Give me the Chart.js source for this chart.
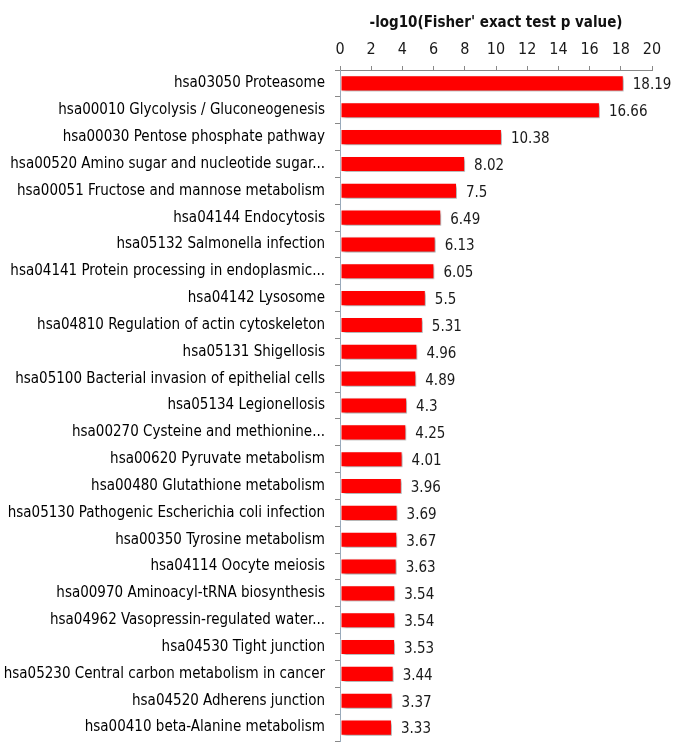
<!DOCTYPE html>
<html>
<head>
<meta charset="utf-8">
<script src="https://cdn.jsdelivr.net/npm/chart.js@4.4.0/dist/chart.umd.min.js"></script>
<style>
  html, body { margin: 0; padding: 0; background: #fff; overflow: hidden; }
  #wrap { width: 673px; height: 760px; }
</style>
</head>
<body>
<div id="wrap"><canvas id="barChart" width="673" height="760"></canvas></div>
<script>
/********************
DATA
********************/

var pathways = [
  "hsa03050 Proteasome",
  "hsa00010 Glycolysis / Gluconeogenesis",
  "hsa00030 Pentose phosphate pathway",
  "hsa00520 Amino sugar and nucleotide sugar...",
  "hsa00051 Fructose and mannose metabolism",
  "hsa04144 Endocytosis",
  "hsa05132 Salmonella infection",
  "hsa04141 Protein processing in endoplasmic...",
  "hsa04142 Lysosome",
  "hsa04810 Regulation of actin cytoskeleton",
  "hsa05131 Shigellosis",
  "hsa05100 Bacterial invasion of epithelial cells",
  "hsa05134 Legionellosis",
  "hsa00270 Cysteine and methionine...",
  "hsa00620 Pyruvate metabolism",
  "hsa00480 Glutathione metabolism",
  "hsa05130 Pathogenic Escherichia coli infection",
  "hsa00350 Tyrosine metabolism",
  "hsa04114 Oocyte meiosis",
  "hsa00970 Aminoacyl-tRNA biosynthesis",
  "hsa04962 Vasopressin-regulated water...",
  "hsa04530 Tight junction",
  "hsa05230 Central carbon metabolism in cancer",
  "hsa04520 Adherens junction",
  "hsa00410 beta-Alanine metabolism"
];

var logP = [18.19, 16.66, 10.38, 8.02, 7.5, 6.49, 6.13, 6.05, 5.5, 5.31,
            4.96, 4.89, 4.3, 4.25, 4.01, 3.96, 3.69, 3.67, 3.63, 3.54,
            3.54, 3.53, 3.44, 3.37, 3.33];

var axisTitle = "-log10(Fisher' exact test p value)";
var xMin = 0, xMax = 20, xStep = 2;

var FONT = "'DejaVu Sans Condensed', sans-serif";

/********************
PLUGINS
********************/

// soft drop shadow under the bars
var barShadow = {
  id: 'barShadow',
  beforeDatasetsDraw: function(chart) {
    var c = chart.ctx;
    c.save();
    c.shadowColor = 'rgba(0,0,0,0.4)';
    c.shadowBlur = 3;
    c.shadowOffsetX = 2;
    c.shadowOffsetY = 2;
  },
  afterDatasetsDraw: function(chart) {
    chart.ctx.restore();
  }
};

// value labels at the end of each bar
var valueLabels = {
  id: 'valueLabels',
  afterDatasetsDraw: function(chart) {
    var c = chart.ctx;
    var meta = chart.getDatasetMeta(0);
    c.save();
    c.font = "15px " + FONT;
    c.fillStyle = '#1a1a1a';
    c.textAlign = 'left';
    c.textBaseline = 'middle';
    meta.data.forEach(function(bar, i) {
      c.fillText(String(logP[i]), bar.x + 9, bar.y + 2);
    });
    c.restore();
  }
};

/********************
BAR CHART
********************/

var ctx = document.getElementById('barChart').getContext('2d');
var chart = new Chart(ctx, {
  type: 'bar',
  data: {
    labels: pathways,
    datasets: [{
      data: logP,
      backgroundColor: '#ff0000',
      borderColor: 'rgba(255,255,255,0.9)',
      borderWidth: 1,
      borderSkipped: false,
      barPercentage: 0.6,
      categoryPercentage: 1.0
    }]
  },
  plugins: [barShadow, valueLabels],
  options: {
    responsive: false,
    animation: false,
    indexAxis: 'y',
    layout: { padding: { left: 0, right: 21, top: 0, bottom: 4 } },
    plugins: {
      legend: { display: false },
      tooltip: { enabled: false }
    },
    scales: {
      x: {
        position: 'top',
        min: xMin,
        max: xMax,
        afterFit: function(scale) { scale.height = 70; },
        ticks: {
          stepSize: xStep,
          color: '#1a1a1a',
          padding: 7,
          font: { family: FONT, size: 16 }
        },
        grid: {
          drawOnChartArea: false,
          tickLength: 4,
          color: '#888'
        },
        border: { color: '#888' },
        title: {
          display: true,
          text: axisTitle,
          color: '#111',
          padding: { top: 14, bottom: 2 },
          font: { family: FONT, size: 15, weight: 'bold' }
        }
      },
      y: {
        afterFit: function(scale) { scale.width = 340; },
        ticks: {
          color: '#000',
          padding: 10,
          font: { family: FONT, size: 15 }
        },
        grid: {
          drawOnChartArea: false,
          offset: true,
          tickLength: 5,
          color: '#888'
        },
        border: { color: '#9ab' }
      }
    }
  }
});
</script>
</body>
</html>
